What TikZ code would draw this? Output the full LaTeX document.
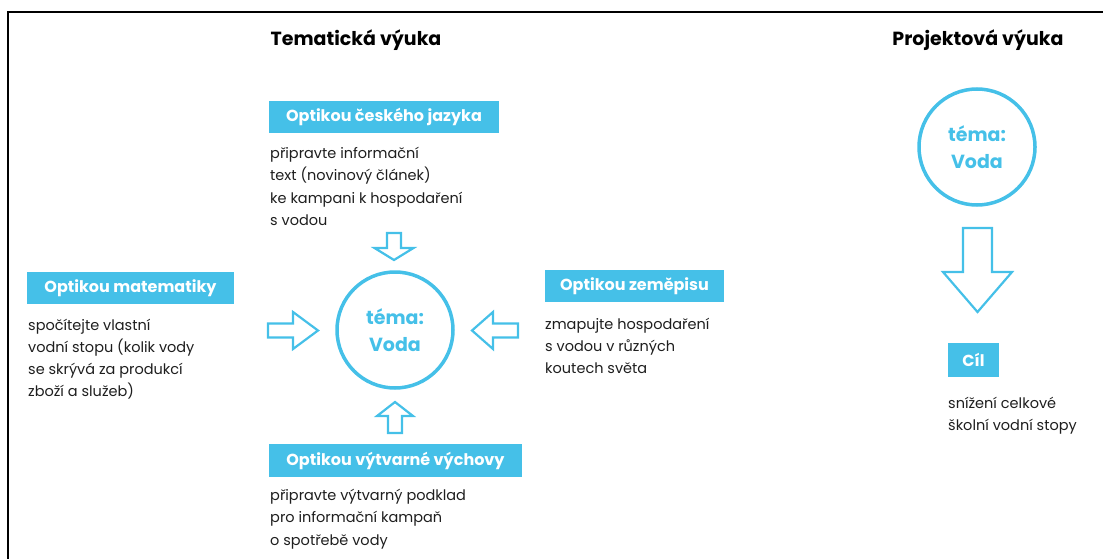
\documentclass[tikz,border=0pt]{standalone}
\usepackage{fontspec}
\setmainfont{Poppins}
\usetikzlibrary{positioning}
\definecolor{cblue}{RGB}{69,192,232}
\definecolor{ctext}{RGB}{30,30,30}
\begin{document}
\begin{tikzpicture}[x=1pt,y=-1pt,
  heading/.style={font=\bfseries\fontsize{19}{22}\selectfont, text=black, inner sep=0pt},
  labelbox/.style={fill=cblue, text=white, font=\bfseries\fontsize{16}{20}\selectfont, inner sep=0pt, minimum height=32pt},
  bodytext/.style={font=\fontsize{14.5}{22.3}\selectfont, text=ctext, align=left, anchor=north west, inner sep=0pt},
  topic/.style={circle, draw=cblue, line width=3.5pt, minimum size=116pt, inner sep=0pt, text=cblue, align=center, font=\bfseries\fontsize{19}{27}\selectfont},
  hollowarrow/.style={draw=cblue, line width=2.2pt, line join=miter, fill=white},
  frame/.style={draw=black, line width=2pt}
]
\useasboundingbox (0,0) rectangle (1103,559);
\draw[frame] (8,559) -- (8,12) -- (1103,12);

% headings
\node[heading] (h1) at (356,40) {Tematická výuka};
\node[heading] (h2) at (978,40) {Projektová výuka};

% central topic
\node[topic] (voda1) at (395,330) {téma:\\Voda};

% Czech language
\node[labelbox, minimum width=230pt] (boxcj) at (384,117) {Optikou českého jazyka};
\node[bodytext] (txtcj) at (270,147) {připravte informační\\text (novinový článek)\\ke kampani k hospodaření\\s vodou};

% mathematics
\node[labelbox, minimum width=207pt] (boxmat) at (130.5,288) {Optikou matematiky};
\node[bodytext] (txtmat) at (28,318.5) {spočítejte vlastní\\vodní stopu (kolik vody\\se skrývá za produkcí\\zboží a služeb)};

% geography
\node[labelbox, minimum width=179pt] (boxzem) at (634.5,286) {Optikou zeměpisu};
\node[bodytext] (txtzem) at (545,317.5) {zmapujte hospodaření\\s vodou v různých\\koutech světa};

% art
\node[labelbox, minimum width=253pt, minimum height=33pt] (boxvv) at (395.5,460.5) {Optikou výtvarné výchovy};
\node[bodytext] (txtvv) at (270,489) {připravte výtvarný podklad\\pro informační kampaň\\o spotřebě vody};

% hollow arrows towards the topic
\draw[hollowarrow] (387,233) -- (401,233) -- (401,248) -- (413.5,248) -- (394,260) -- (374.5,248) -- (387,248) -- cycle;
\draw[hollowarrow] (388,433) -- (402,433) -- (402,416) -- (413,416) -- (395,402) -- (377,416) -- (388,416) -- cycle;
\draw[hollowarrow] (268,323.5) -- (293,323.5) -- (293,312) -- (318,330.5) -- (293,349) -- (293,337.5) -- (268,337.5) -- cycle;
\draw[hollowarrow] (518,323.5) -- (493,323.5) -- (493,312) -- (472,330.5) -- (493,349) -- (493,337.5) -- (518,337.5) -- cycle;

% project teaching
\node[topic] (voda2) at (977,147) {téma:\\Voda};
\draw[hollowarrow] (963,228) -- (992,228) -- (992,272) -- (1012,272) -- (977.5,312) -- (943,272) -- (963,272) -- cycle;
\node[labelbox, minimum width=51pt, minimum height=34pt] (boxcil) at (973.5,360) {Cíl};
\node[bodytext] (txtcil) at (948,397) {snížení celkové\\školní vodní stopy};
\end{tikzpicture}
\end{document}
